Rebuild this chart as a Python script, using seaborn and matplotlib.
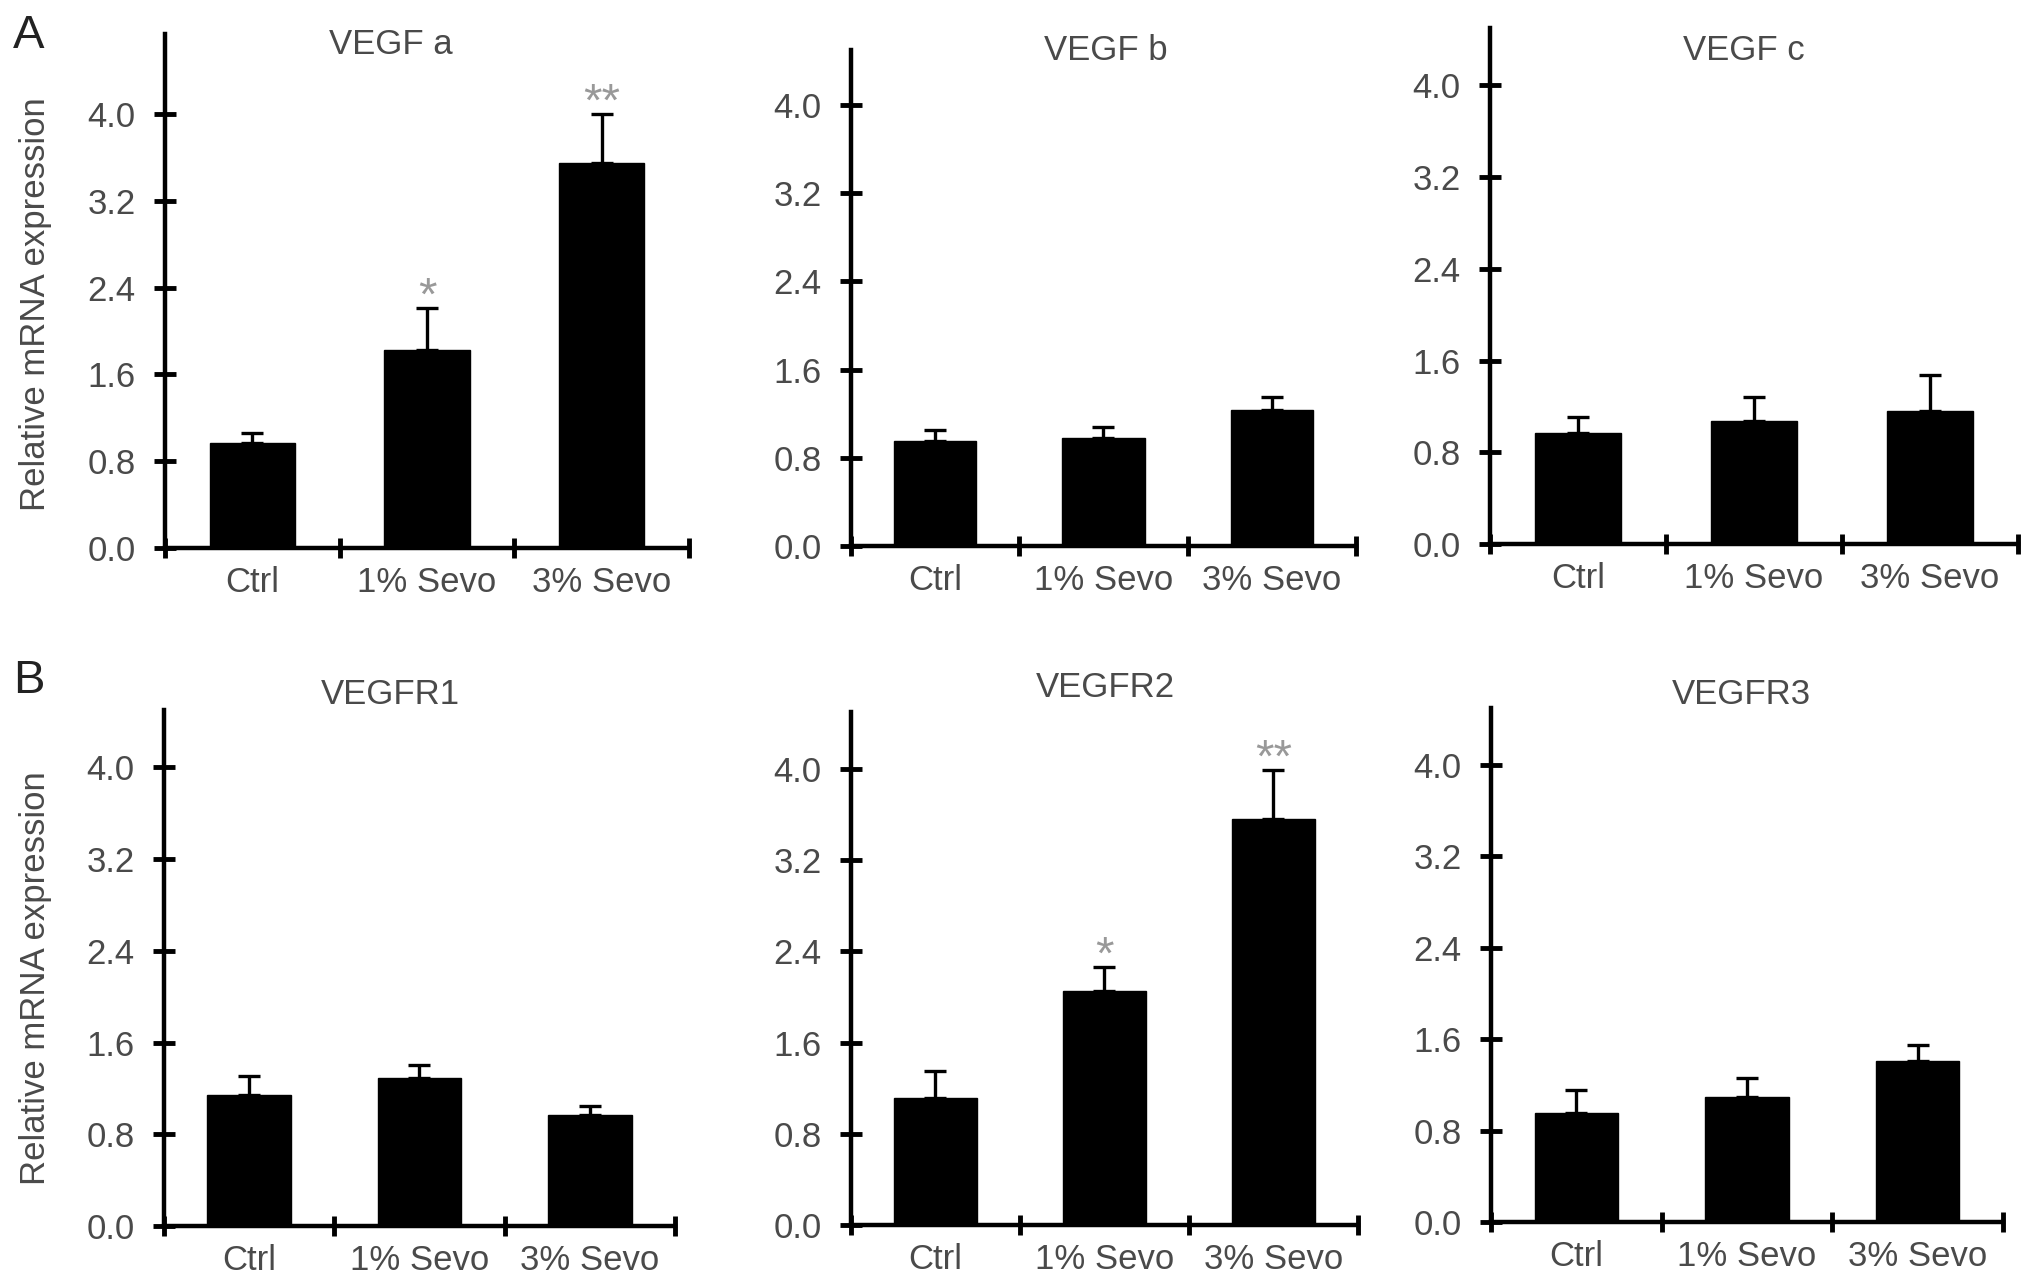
import numpy as np
import pandas as pd
import seaborn as sns
import matplotlib.pyplot as plt
from matplotlib.ticker import FixedLocator, FormatStrFormatter, NullFormatter

categories = ["Ctrl", "1% Sevo", "3% Sevo"]

vegfa = [0.97, 1.83, 3.55]
vegfa_err = [0.09, 0.38, 0.45]
vegfb = [0.95, 0.98, 1.23]
vegfb_err = [0.10, 0.10, 0.12]
vegfc = [0.97, 1.07, 1.16]
vegfc_err = [0.14, 0.21, 0.31]
vegfr1 = [1.14, 1.29, 0.97]
vegfr1_err = [0.17, 0.11, 0.08]
vegfr2 = [1.11, 2.05, 3.56]
vegfr2_err = [0.24, 0.21, 0.43]
vegfr3 = [0.95, 1.09, 1.41]
vegfr3_err = [0.21, 0.17, 0.14]

stars_sig = ["", "*", "**"]
stars_none = ["", "", ""]

yticks = [0.0, 0.8, 1.6, 2.4, 3.2, 4.0]

panels = [
    ("VEGF a", vegfa, vegfa_err, stars_sig),
    ("VEGF b", vegfb, vegfb_err, stars_none),
    ("VEGF c", vegfc, vegfc_err, stars_none),
    ("VEGFR1", vegfr1, vegfr1_err, stars_none),
    ("VEGFR2", vegfr2, vegfr2_err, stars_sig),
    ("VEGFR3", vegfr3, vegfr3_err, stars_none),
]

# layout in pixels: left, right, top, bottom, ymax, title x, title y
W, H = 2031, 1279
boxes = [
    (165, 689, 34, 548, 4.74, 391, 44),
    (851, 1356, 50, 546, 4.50, 1106, 50),
    (1490, 2018, 28, 544, 4.50, 1744, 50),
    (164, 675, 710, 1226, 4.50, 390, 695),
    (851, 1358, 712, 1225, 4.50, 1105, 687),
    (1491, 2003, 708, 1222, 4.50, 1741, 695),
]

sns.set_theme(style="white")
plt.rcParams["font.family"] = ["Liberation Sans", "DejaVu Sans"]

text_gray = "#4a4a4a"
star_gray = "#999999"
fs = 25

fig = plt.figure(figsize=(W / 100, H / 100), dpi=100)

for (name, vals, errs, stars), (l, r, t, b, ymax, tx, ty) in zip(panels, boxes):
    ax = fig.add_axes([l / W, (H - b) / H, (r - l) / W, (b - t) / H])
    df = pd.DataFrame({"group": categories, "value": vals})
    sns.barplot(data=df, x="group", y="value", color="black", saturation=1,
                width=0.49, errorbar=None, edgecolor="black", ax=ax)
    ax.errorbar(range(len(vals)), vals, yerr=[np.zeros(len(errs)), errs],
                fmt="none", ecolor="black", elinewidth=2.4, capsize=8,
                capthick=2.4, zorder=1)
    for i, s in enumerate(stars):
        if s:
            ax.annotate(s, (i, vals[i] + errs[i]), xytext=(0, -1),
                        textcoords="offset points", ha="center", va="baseline",
                        fontsize=34, color=star_gray)

    ax.set_xlim(-0.5, 2.5)
    ax.set_ylim(0, ymax)
    ax.set_xlabel("")
    ax.set_ylabel("")
    sns.despine(ax=ax)
    for sp in ["left", "bottom"]:
        ax.spines[sp].set_linewidth(3.2)
        ax.spines[sp].set_color("black")

    ax.xaxis.set_major_locator(FixedLocator([-0.5, 0.5, 1.5, 2.5]))
    ax.xaxis.set_major_formatter(NullFormatter())
    ax.xaxis.set_minor_locator(FixedLocator([0, 1, 2]))
    ax.set_xticklabels(categories, minor=True)
    ax.tick_params(axis="x", which="major", direction="inout", length=14,
                   width=3.5, color="black", bottom=True)
    ax.tick_params(axis="x", which="minor", length=0, pad=13,
                   labelsize=fs, labelcolor=text_gray, bottom=True)

    ax.yaxis.set_major_locator(FixedLocator(yticks))
    ax.yaxis.set_major_formatter(FormatStrFormatter("%.1f"))
    ax.tick_params(axis="y", which="major", direction="inout", length=16,
                   width=3.5, color="black", left=True, pad=13,
                   labelsize=fs, labelcolor=text_gray)

    fig.text(tx / W, 1 - ty / H, name, ha="center", va="center",
             fontsize=fs, color=text_gray)

fig.text(36 / W, 1 - 304 / H, "Relative mRNA expression", rotation=90,
         ha="center", va="center", fontsize=fs, color=text_gray)
fig.text(36 / W, 1 - 978 / H, "Relative mRNA expression", rotation=90,
         ha="center", va="center", fontsize=fs, color=text_gray)
fig.text(29 / W, 1 - 36 / H, "A", ha="center", va="center",
         fontsize=34, color="#222222")
fig.text(29 / W, 1 - 681 / H, "B", ha="center", va="center",
         fontsize=34, color="#222222")

fig.savefig("out.png", dpi=100, facecolor="white")
